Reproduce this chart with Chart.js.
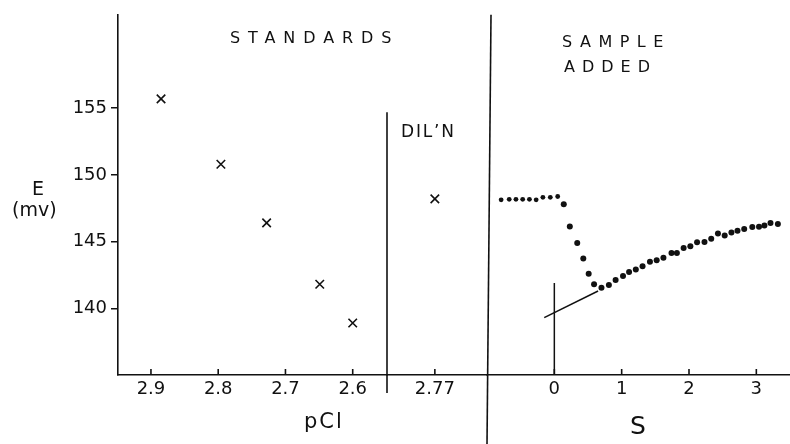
<!DOCTYPE html>
<html>
<head>
<meta charset="utf-8">
<script src="https://cdn.jsdelivr.net/npm/chart.js@4/dist/chart.umd.min.js"></script>
<style>
  html, body { margin: 0; padding: 0; background: #fff; }
  #wrap { width: 790px; height: 444px; }
</style>
</head>
<body>
<div id="wrap"><canvas id="c" width="790" height="444"></canvas></div>
<script>
// Standards: electrode potential E (mV) against pCl
const stdPCl = [2.885, 2.796, 2.728, 2.649, 2.600];
const stdE   = [155.7, 150.8, 146.4, 141.8, 138.9];

// Dilution check
const dilPCl = [2.77];
const dilE   = [148.2];

// Sample added: E against S
const sampleS = [-0.79, -0.67, -0.57, -0.47, -0.37, -0.27, -0.17, -0.06, 0.05,
                 0.14, 0.23, 0.34, 0.43, 0.51, 0.59,
                 0.70, 0.81, 0.91, 1.02, 1.11, 1.21, 1.31, 1.42, 1.52, 1.62,
                 1.74, 1.82, 1.92, 2.02, 2.12, 2.23, 2.33, 2.43, 2.53, 2.63,
                 2.72, 2.82, 2.94, 3.04, 3.12, 3.21, 3.32];
const sampleE = [148.13, 148.17, 148.17, 148.17, 148.17, 148.13, 148.32, 148.32, 148.38,
                 147.80, 146.14, 144.90, 143.73, 142.59, 141.80,
                 141.54, 141.74, 142.12, 142.42, 142.73, 142.91, 143.16, 143.48, 143.61, 143.78,
                 144.15, 144.15, 144.52, 144.65, 144.95, 144.97, 145.22, 145.60, 145.45, 145.69,
                 145.82, 145.94, 146.09, 146.12, 146.21, 146.39, 146.31];

// Line extrapolated back towards S = 0
const extrapS = [-0.15, 0.65];
const extrapE = [139.3, 141.3];

// Marker line at S = 0
const zeroS = [0, 0];
const zeroE = [141.9, 135];

// Tick labels
const stdTicks = [2.9, 2.8, 2.7, 2.6];
const dilTicks = [2.77];
const sTicks   = [0, 1, 2, 3];
const eTicks   = [140, 145, 150, 155];

const INK = '#111';
const FONT = "'DejaVu Sans', sans-serif";

const pts = (xs, ys) => xs.map((x, i) => ({ x: x, y: ys[i] }));
const fixTicks = vals => scale => { scale.ticks = vals.map(v => ({ value: v })); };

function xAxis(weight, min, max, ticks, reverse) {
  return {
    type: 'linear', position: 'bottom', stack: 'bottomAxes', stackWeight: weight,
    min: min, max: max, reverse: !!reverse,
    afterBuildTicks: fixTicks(ticks),
    afterFit: s => { s.height = 69; },
    grid: { display: false, drawTicks: false },
    border: { color: INK, width: 1.6 },
    ticks: { color: INK, font: { family: FONT, size: 18 }, padding: 4, maxRotation: 0, autoSkip: false,
             callback: v => String(v) }
  };
}

function drawText(ctx, str, x, baseline, size, spacing) {
  ctx.font = size + 'px ' + FONT;
  ctx.letterSpacing = spacing + 'px';
  ctx.textAlign = 'left';
  ctx.textBaseline = 'alphabetic';
  ctx.fillText(str, x, baseline);
}

const decor = {
  id: 'decor',
  afterDraw(chart) {
    const { ctx, chartArea, scales } = chart;
    const y = scales.y;
    ctx.save();
    ctx.strokeStyle = INK;
    ctx.fillStyle = INK;
    ctx.lineWidth = 1.6;

    // inward tick marks on the horizontal axes
    ['xStd', 'xDil', 'xS'].forEach(id => {
      const s = scales[id];
      s.ticks.forEach(t => {
        const px = s.getPixelForValue(t.value);
        ctx.beginPath();
        ctx.moveTo(px, s.top);
        ctx.lineTo(px, s.top - 6);
        ctx.stroke();
      });
    });

    // divider between standards and dilution
    const d1 = scales.xStd.right;
    ctx.beginPath();
    ctx.moveTo(d1, y.getPixelForValue(154.7));
    ctx.lineTo(d1, scales.xStd.top + 18);
    ctx.stroke();

    // divider before the sample-added section
    const d2 = scales.xS.left;
    ctx.beginPath();
    ctx.moveTo(d2 + 4, chartArea.top);
    ctx.lineTo(d2, chart.height);
    ctx.stroke();

    // headings
    drawText(ctx, 'STANDARDS', 230, 43, 16, 7.9);
    drawText(ctx, 'DIL\u2019N', 401, 137, 17, 1.8);
    drawText(ctx, 'SAMPLE', 562, 47, 16, 7.5);
    drawText(ctx, 'ADDED', 564, 72, 16, 7);

    // axis titles
    drawText(ctx, 'E', 32, 195, 19, 0);
    drawText(ctx, '(mv)', 12, 216, 19, 0);
    drawText(ctx, 'pCl', 304, 428, 21, 2);
    drawText(ctx, 'S', 630, 434, 25, 0);

    ctx.restore();
  }
};

// readings taken before the sample goes in are plotted with slightly smaller dots
const baselineCount = sampleS.filter(s => s <= 0.05).length;

new Chart(document.getElementById('c').getContext('2d'), {
  type: 'scatter',
  data: {
    datasets: [
      { data: pts(stdPCl, stdE), xAxisID: 'xStd', pointStyle: 'crossRot', pointRadius: 6,
        borderColor: INK, backgroundColor: INK, borderWidth: 1.6 },
      { data: pts(dilPCl, dilE), xAxisID: 'xDil', pointStyle: 'crossRot', pointRadius: 6,
        borderColor: INK, backgroundColor: INK, borderWidth: 1.6 },
      { data: pts(sampleS, sampleE), xAxisID: 'xS', pointStyle: 'circle',
        pointRadius: c => (c.dataIndex < baselineCount ? 2.4 : 3),
        borderWidth: 0, borderColor: INK, backgroundColor: INK },
      { data: pts(extrapS, extrapE), xAxisID: 'xS', showLine: true, pointRadius: 0,
        borderColor: INK, borderWidth: 1.5 },
      { data: pts(zeroS, zeroE), xAxisID: 'xS', showLine: true, pointRadius: 0,
        borderColor: INK, borderWidth: 1.5 }
    ]
  },
  options: {
    responsive: false,
    animation: false,
    devicePixelRatio: 1,
    layout: { autoPadding: false, padding: { top: 13, left: 0, right: 0, bottom: 0 } },
    plugins: { legend: { display: false }, tooltip: { enabled: false } },
    scales: {
      y: {
        type: 'linear', position: 'left', min: 135, max: 162,
        afterBuildTicks: fixTicks(eTicks),
        afterFit: s => { s.width = 118; },
        grid: { drawOnChartArea: false, drawTicks: true, tickLength: 7, color: INK, lineWidth: 1.5 },
        border: { color: INK, width: 1.6 },
        ticks: { color: INK, font: { family: FONT, size: 18 }, padding: 4 }
      },
      xStd: xAxis(269, 2.549, 2.949, stdTicks, true),
      xDil: xAxis(100, 2.697, 2.837, dilTicks, true),
      xS:   xAxis(303, -1.0, 3.5, sTicks, false)
    }
  },
  plugins: [decor]
});
</script>
</body>
</html>
